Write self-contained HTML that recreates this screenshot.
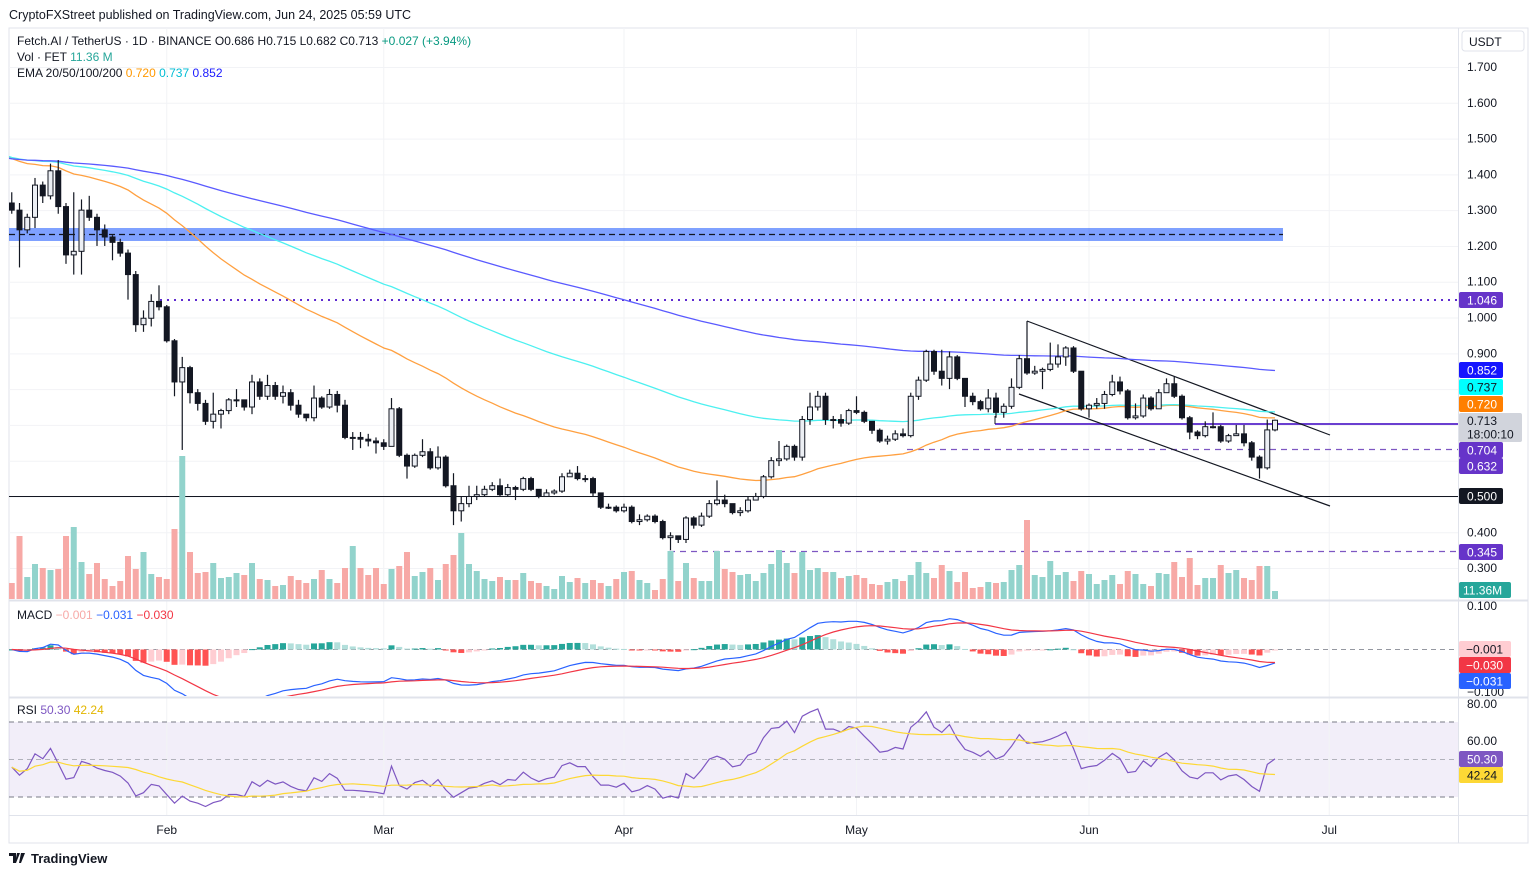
<!DOCTYPE html>
<html><head><meta charset="utf-8">
<style>
html,body{margin:0;padding:0;background:#fff;width:1536px;height:875px;overflow:hidden;font-family:"Liberation Sans",sans-serif;}
svg text{font-family:"Liberation Sans",sans-serif;}
</style></head>
<body>
<svg id="chart" width="1536" height="875" xmlns="http://www.w3.org/2000/svg">
  <defs>
    <clipPath id="cp-price"><rect x="9" y="29" width="1449" height="571"/></clipPath>
    <clipPath id="cp-macd"><rect x="9" y="601" width="1449" height="95"/></clipPath>
    <clipPath id="cp-rsi"><rect x="9" y="698" width="1449" height="116"/></clipPath>
  </defs>
  <text x="9" y="19" font-size="12.5" fill="#131722">CryptoFXStreet published on TradingView.com, Jun 24, 2025 05:59 UTC</text>
  <rect x="9" y="28" width="1519" height="815" fill="none" stroke="#e0e3eb"/>
  <rect x="9" y="722" width="1449" height="75" fill="#7e57c2" fill-opacity="0.1"/>
  <g id="grid"></g>
  <g id="price-layer" clip-path="url(#cp-price)">
    <rect x="9" y="228" width="1274" height="13" fill="#2962ff" fill-opacity="0.6"/>
    <line x1="9" y1="234.5" x2="1283" y2="234.5" stroke="#131722" stroke-width="1.2" stroke-dasharray="6,4"/>
    <line x1="160" y1="300" x2="1458" y2="300" stroke="#5e2bd0" stroke-width="2" stroke-dasharray="2,5"/>
    <line x1="9" y1="496.5" x2="1458" y2="496.5" stroke="#131722" stroke-width="1"/>
    <line x1="995" y1="424" x2="1458" y2="424" stroke="#6a3fd0" stroke-width="2"/>
    <line x1="995" y1="416" x2="995" y2="424" stroke="#131722" stroke-width="1"/>
    <line x1="907" y1="449.5" x2="1458" y2="449.5" stroke="#7e57c2" stroke-width="1.2" stroke-dasharray="6,5"/>
    <line x1="669" y1="551.5" x2="1458" y2="551.5" stroke="#7e57c2" stroke-width="1.2" stroke-dasharray="6,5"/>
    <line x1="1027" y1="321" x2="1330" y2="435" stroke="#131722" stroke-width="1.2"/>
    <line x1="1019" y1="394" x2="1330" y2="506" stroke="#131722" stroke-width="1.2"/>
  </g>
  <g id="macd-layer" clip-path="url(#cp-macd)">
    <line x1="9" y1="649.5" x2="1458" y2="649.5" stroke="#9598a1" stroke-dasharray="5,4"/>
  </g>
  <g id="rsi-layer" clip-path="url(#cp-rsi)">
    <line x1="9" y1="722" x2="1458" y2="722" stroke="#787b86" stroke-dasharray="5,4"/>
    <line x1="9" y1="759.5" x2="1458" y2="759.5" stroke="#9598a1" stroke-dasharray="5,4" stroke-opacity="0.7"/>
    <line x1="9" y1="797" x2="1458" y2="797" stroke="#787b86" stroke-dasharray="5,4"/>
  </g>
  <line x1="9" y1="600.5" x2="1528" y2="600.5" stroke="#e0e3eb" stroke-width="2"/>
  <line x1="9" y1="697.5" x2="1528" y2="697.5" stroke="#e0e3eb" stroke-width="2"/>
  <line x1="9" y1="815.5" x2="1528" y2="815.5" stroke="#e0e3eb"/>
  <line x1="1458.5" y1="28" x2="1458.5" y2="843" stroke="#e0e3eb"/>
  <g id="axes" font-size="12" fill="#131722"></g>

  <g font-size="12">
    <text x="17" y="45" fill="#131722">Fetch.AI / TetherUS · 1D · BINANCE  <tspan fill="#131722">O</tspan><tspan>0.686</tspan>  H<tspan>0.715</tspan>  L<tspan>0.682</tspan>  C<tspan>0.713</tspan> <tspan fill="#089981">+0.027 (+3.94%)</tspan></text>
    <text x="17" y="61" fill="#131722">Vol · FET <tspan fill="#26a69a">11.36 M</tspan></text>
    <text x="17" y="77" fill="#131722">EMA 20/50/100/200 <tspan fill="#ff9800">0.720</tspan> <tspan fill="#00bcd4">0.737</tspan> <tspan fill="#1a1aff">0.852</tspan></text>
    <text x="17" y="619" fill="#131722">MACD <tspan fill="#f7a9a7">−0.001</tspan> <tspan fill="#2962ff">−0.031</tspan> <tspan fill="#f23645">−0.030</tspan></text>
    <text x="17" y="714" fill="#131722">RSI <tspan fill="#7e57c2">50.30</tspan> <tspan fill="#e2b600">42.24</tspan></text>
  </g>
  <g font-size="12">
    <rect x="1462" y="31" width="62" height="20" rx="3" fill="#fff" stroke="#e0e3eb"/>
    <text x="1469" y="46" fill="#131722">USDT</text>
    <rect x="1459" y="292" width="44" height="16" rx="2" fill="#6634c9"/><text x="1467" y="304.5" fill="#fff">1.046</text>
    <rect x="1459" y="362" width="44" height="16" rx="2" fill="#1515ff"/><text x="1467" y="374.5" fill="#fff">0.852</text>
    <rect x="1459" y="379" width="44" height="16" rx="2" fill="#00ffff"/><text x="1467" y="391.5" fill="#131722">0.737</text>
    <rect x="1459" y="396" width="44" height="16" rx="2" fill="#ff7f00"/><text x="1467" y="408.5" fill="#fff">0.720</text>
    <rect x="1459" y="413" width="63" height="29" rx="2" fill="#d1d4dc"/><text x="1467" y="425" fill="#131722">0.713</text><text x="1467" y="438.5" fill="#131722">18:00:10</text>
    <rect x="1459" y="442" width="44" height="16" rx="2" fill="#6634c9"/><text x="1467" y="454.5" fill="#fff">0.704</text>
    <rect x="1459" y="458" width="44" height="16" rx="2" fill="#6634c9"/><text x="1467" y="470.5" fill="#fff">0.632</text>
    <rect x="1459" y="488" width="44" height="16" rx="2" fill="#131722"/><text x="1467" y="500.5" fill="#fff">0.500</text>
    <rect x="1459" y="544" width="44" height="16" rx="2" fill="#6634c9"/><text x="1467" y="556.5" fill="#fff">0.345</text>
    <rect x="1459" y="582" width="52" height="16" rx="2" fill="#26a69a"/><text x="1463" y="594.5" fill="#fff">11.36M</text>
    <text x="1467" y="610" fill="#131722">0.100</text>
    <text x="1467" y="696" fill="#131722">−0.100</text>
    <rect x="1459" y="641" width="52" height="16" rx="2" fill="#ffcdd2"/><text x="1466" y="653.5" fill="#131722">−0.001</text>
    <rect x="1459" y="657" width="52" height="16" rx="2" fill="#f23645"/><text x="1466" y="669.5" fill="#fff">−0.030</text>
    <rect x="1459" y="673" width="52" height="16" rx="2" fill="#2962ff"/><text x="1466" y="685.5" fill="#fff">−0.031</text>
    <text x="1467" y="708" fill="#131722">80.00</text>
    <text x="1467" y="745" fill="#131722">60.00</text>
    <rect x="1459" y="751" width="44" height="16" rx="2" fill="#7e57c2"/><text x="1467" y="763.5" fill="#fff">50.30</text>
    <rect x="1459" y="767" width="44" height="16" rx="2" fill="#fdd835"/><text x="1467" y="779.5" fill="#131722">42.24</text>
  </g>
  <g>
    <path d="M9 853h7v10h-3v-7h-4z M17 853l3 0 -4 10h-1z M21 853h4l-4 10h-2z" fill="#131722"/>
    <text x="31" y="863" font-size="13" font-weight="bold" fill="#131722">TradingView</text>
  </g>
</svg>
<script>
const closes=[1.30,1.245,1.28,1.37,1.34,1.41,1.31,1.175,1.185,1.30,1.28,1.245,1.225,1.21,1.18,1.12,0.98,0.998,1.045,1.03,0.935,0.82,0.86,0.79,0.76,0.71,0.73,0.74,0.77,0.77,0.75,0.82,0.78,0.81,0.78,0.79,0.755,0.73,0.72,0.775,0.75,0.785,0.755,
0.665,0.665,0.66,0.655,0.65,0.64,0.745,0.615,0.585,0.615,0.625,0.58,0.61,0.53,0.46,0.48,0.50,0.505,0.52,0.53,0.505,0.525,0.52,0.55,0.52,0.50,0.51,0.515,0.555,0.565,0.55,0.55,0.51,0.47,0.47,0.46,0.47,0.43,0.435,0.445,0.43,
0.385,0.39,0.38,0.44,0.42,0.445,0.48,0.49,0.48,0.455,0.46,0.49,0.50,0.555,0.60,0.605,0.64,0.61,0.715,0.75,0.78,0.715,0.715,0.705,0.74,0.735,0.71,0.685,0.655,0.66,0.675,0.67,0.78,0.825,0.905,0.85,0.83,0.89,0.83,0.78,0.765,0.745,
0.775,0.735,0.752,0.805,0.885,0.845,0.85,0.855,0.87,0.89,0.915,0.85,0.745,0.755,0.76,0.785,0.82,0.795,0.72,0.725,0.775,0.745,0.79,0.815,0.78,0.72,0.68,0.67,0.695,0.695,0.655,0.67,0.675,0.65,0.61,0.58,0.686,0.713];
const highs=[1.35,1.32,1.29,1.39,1.38,1.43,1.44,1.32,1.35,1.33,1.34,1.29,1.26,1.23,1.22,1.19,1.13,1.02,1.065,1.09,1.035,0.94,0.89,0.865,0.80,0.77,0.79,0.745,0.775,0.80,0.77,0.84,0.83,0.84,0.82,0.81,0.80,0.77,0.73,0.81,0.78,0.80,0.795,
0.77,0.68,0.68,0.675,0.665,0.66,0.775,0.75,0.62,0.62,0.66,0.635,0.64,0.615,0.565,0.50,0.53,0.53,0.53,0.54,0.55,0.535,0.53,0.555,0.555,0.52,0.52,0.52,0.565,0.575,0.585,0.56,0.555,0.51,0.48,0.475,0.48,0.475,0.45,0.45,0.45,
0.435,0.40,0.39,0.445,0.445,0.455,0.49,0.545,0.505,0.48,0.47,0.50,0.51,0.56,0.61,0.655,0.645,0.645,0.725,0.79,0.795,0.79,0.725,0.73,0.745,0.78,0.74,0.71,0.69,0.67,0.685,0.69,0.79,0.835,0.91,0.91,0.91,0.905,0.895,0.83,0.79,0.77,
0.80,0.79,0.76,0.83,0.895,0.99,0.865,0.86,0.93,0.925,0.92,0.92,0.85,0.76,0.775,0.795,0.84,0.835,0.80,0.76,0.785,0.78,0.80,0.83,0.835,0.785,0.725,0.685,0.71,0.735,0.70,0.675,0.70,0.70,0.655,0.615,0.715,0.715];
const lows=[1.29,1.14,1.235,1.25,1.32,1.33,1.29,1.15,1.12,1.12,1.27,1.20,1.20,1.16,1.17,1.05,0.96,0.96,0.975,1.02,0.93,0.78,0.63,0.76,0.74,0.70,0.69,0.69,0.73,0.75,0.74,0.73,0.77,0.77,0.77,0.76,0.74,0.72,0.71,0.71,0.745,0.745,0.735,
0.66,0.63,0.635,0.64,0.62,0.63,0.64,0.61,0.55,0.58,0.61,0.575,0.575,0.525,0.42,0.43,0.47,0.49,0.50,0.515,0.50,0.50,0.49,0.515,0.515,0.495,0.50,0.505,0.51,0.555,0.545,0.54,0.50,0.465,0.465,0.455,0.455,0.425,0.42,0.43,0.425,
0.38,0.35,0.37,0.37,0.41,0.415,0.44,0.475,0.47,0.45,0.445,0.455,0.49,0.495,0.55,0.585,0.60,0.60,0.60,0.70,0.74,0.70,0.69,0.695,0.70,0.73,0.705,0.675,0.65,0.645,0.655,0.665,0.665,0.77,0.82,0.84,0.81,0.80,0.825,0.75,0.755,0.74,
0.735,0.72,0.72,0.745,0.80,0.84,0.84,0.80,0.85,0.86,0.865,0.845,0.74,0.72,0.745,0.745,0.78,0.785,0.715,0.715,0.72,0.74,0.745,0.79,0.775,0.715,0.66,0.66,0.665,0.69,0.65,0.65,0.67,0.64,0.60,0.55,0.575,0.682];
const volumes=[16,63,22,35,31,29,30,63,72,37,25,36,20,13,18,43,30,47,25,22,20,70,143,47,26,27,36,21,22,26,24,36,20,19,13,14,23,19,16,20,29,20,16,31,53,31,24,31,15,30,33,47,23,27,31,19,35,44,66,35,28,20,18,22,19,19,26,18,16,13,10,23,17,21,16,19,16,13,20,27,28,19,16,
9,20,48,18,36,21,18,18,48,30,27,24,25,18,26,35,49,36,26,47,29,31,27,27,21,23,24,21,15,14,17,20,18,24,37,26,21,34,28,17,27,11,12,17,16,17,29,34,79,24,22,38,24,27,18,28,25,15,19,24,15,28,25,15,13,26,25,37,22,41,14,21,21,34,26,29,21,19,33,33,8];
const firstOpen=1.32;
const emaSeeds=[1.45,1.45,1.445];
const emaPeriods=[50,100,200];
const priceTicks=[1.7,1.6,1.5,1.4,1.3,1.2,1.1,1.0,0.9,0.4,0.3];
const gridPrices=[1.7,1.6,1.5,1.4,1.3,1.2,1.1,1.0,0.9,0.8,0.7,0.6,0.5,0.4,0.3];
const monthLabels=['Feb','Mar','Apr','May','Jun','Jul'];
const monthIndex=[20,48,79,109,139,170];

const NS='http://www.w3.org/2000/svg';
const N=closes.length;
const X=i=>11.75+7.75*i;
const Y=p=>67+(1.7-p)*357.9;
const YM=v=>649.5-v*426;
const YR=v=>759.5-(v-50)*1.87;
function mk(tag,attrs,parent){const e=document.createElementNS(NS,tag);for(const k in attrs)e.setAttribute(k,attrs[k]);parent.appendChild(e);return e;}
const grid=document.getElementById('grid'),axes=document.getElementById('axes');
const price=document.getElementById('price-layer'),macdL=document.getElementById('macd-layer'),rsiL=document.getElementById('rsi-layer');

gridPrices.forEach(p=>{const l=mk('line',{x1:9,x2:1458,y1:Y(p)+0.5,y2:Y(p)+0.5,stroke:'#f2f3f6'},grid);

});
monthIndex.forEach((mi,k)=>{const x=X(mi);const l=mk('line',{x1:x,x2:x,y1:28,y2:815,stroke:'#f2f3f6'},grid);


const t=mk('text',{x:x,y:834,'text-anchor':'middle','font-size':12},axes);t.textContent=monthLabels[k];

});
priceTicks.forEach(p=>{const t=mk('text',{x:1467,y:Y(p)+4},axes);t.textContent=p.toFixed(3);

});

const opens=closes.map((c,i)=>i?closes[i-1]:firstOpen);
const volG=mk('g',{},price);
for(let i=0;i<N;i++){const up=closes[i]>=opens[i];const h=volumes[i];
const r=mk('rect',{x:X(i)-3,y:599-h,width:6,height:h,fill:up?'#92d3cc':'#f7a9a6'},volG);

}
const emaColors=['#ffa040','#4cf0f0','#5a5aff'];
emaPeriods.forEach((per,k)=>{const a=2/(per+1);let e=emaSeeds[k];let d='M9 '+Y(e).toFixed(1);
for(let i=0;i<N;i++){e=closes[i]*a+e*(1-a);d+=' L'+X(i).toFixed(1)+' '+Y(e).toFixed(1);}
const p=mk('path',{d:d,fill:'none',stroke:emaColors[k],'stroke-width':1.3},price);

});
for(let i=0;i<N;i++){const o=opens[i],c=closes[i],up=c>=o;const x=X(i);
const g=mk('g',{},price);


mk('line',{x1:x,x2:x,y1:Y(highs[i]),y2:Y(lows[i]),stroke:'#131722','stroke-width':1.2},g);
const top=Y(Math.max(o,c)),bot=Y(Math.min(o,c));
mk('rect',{x:x-2.5,y:top,width:5,height:Math.max(1,bot-top),fill:up?'#eceff4':'#131722',stroke:'#131722','stroke-width':1},g);}
function emaArr(src,per){const a=2/(per+1);let e=src[0];return src.map(v=>(e=v*a+e*(1-a)));}
const e12=emaArr(closes,12),e26=emaArr(closes,26);
const macd=e12.map((v,i)=>v-e26[i]);const sig=emaArr(macd,9);
const hist=macd.map((v,i)=>v-sig[i]);
for(let i=0;i<N;i++){const h=hist[i],prev=i?hist[i-1]:0;let col;
if(h>=0)col=h>=prev?'#26a69a':'#b2dfdb';else col=h<prev?'#ff5252':'#ffcdd2';
const y0=YM(0),y1=YM(h);
const r=mk('rect',{x:X(i)-3,y:Math.min(y0,y1),width:6,height:Math.max(1,Math.abs(y1-y0)),fill:col},macdL);

}
const pm=mk('path',{d:macd.map((v,i)=>(i?'L':'M')+X(i).toFixed(1)+' '+YM(v).toFixed(1)).join(' '),fill:'none',stroke:'#2962ff','stroke-width':1.2},macdL);


const ps=mk('path',{d:sig.map((v,i)=>(i?'L':'M')+X(i).toFixed(1)+' '+YM(v).toFixed(1)).join(' '),fill:'none',stroke:'#f23645','stroke-width':1.2},macdL);


let ag=0.02,al=0.022;const rsi=[];
for(let i=0;i<N;i++){const ch=closes[i]-opens[i];ag=(ag*13+Math.max(ch,0))/14;al=(al*13+Math.max(-ch,0))/14;rsi.push(100-100/(1+ag/al));}
const rsiMa=rsi.map((v,i)=>{const s=rsi.slice(Math.max(0,i-13),i+1);return s.reduce((a,b)=>a+b,0)/s.length;});
const pr=mk('path',{d:rsi.map((v,i)=>(i?'L':'M')+X(i).toFixed(1)+' '+YR(v).toFixed(1)).join(' '),fill:'none',stroke:'#7e57c2','stroke-width':1.2},rsiL);


const pma=mk('path',{d:rsiMa.map((v,i)=>(i?'L':'M')+X(i).toFixed(1)+' '+YR(v).toFixed(1)).join(' '),fill:'none',stroke:'#fdd835','stroke-width':1.2},rsiL);


</script>
</body></html>
